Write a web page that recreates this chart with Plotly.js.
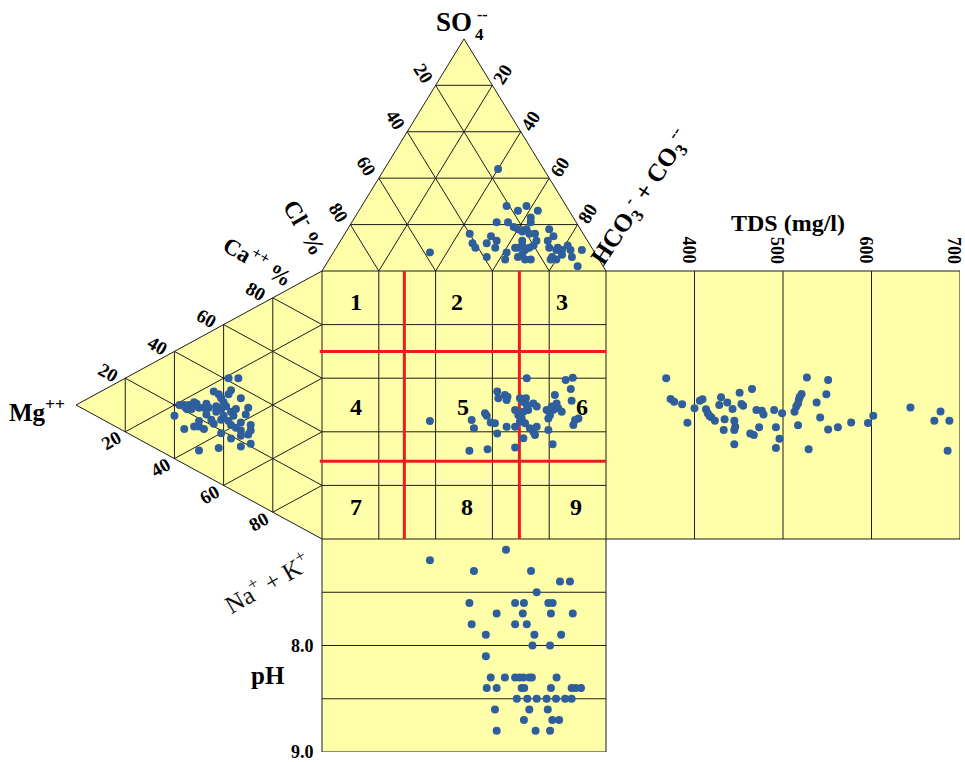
<!DOCTYPE html>
<html>
<head>
<meta charset="utf-8">
<script src="https://cdn.plot.ly/plotly-3.0.1.min.js"></script>
<style>
  html, body { margin: 0; padding: 0; background: #ffffff; }
  #chart { width: 965px; height: 762px; }
</style>
</head>
<body>
<div id="chart"></div>
<script>
// ---- Anion triangle (meq %): SO4 and HCO3+CO3, Cl is the remainder ----
const anionSO4  = [44, 8, 28, 26, 28, 26, 23, 21, 21, 21, 19, 18, 18, 17, 16, 16, 16, 12, 10, 12,
                   15, 13, 10, 6, 5, 8, 10, 10, 13, 11, 9, 10, 11, 7, 5, 6, 5, 13, 13, 18,
                   15, 10, 9, 10, 9, 11, 9, 6, 9, 6, 5, 5, 2, 7];
const anionHCO3 = [40, 34, 51, 56, 58, 63, 62, 63, 51, 55, 58, 63, 60, 62, 65, 67, 44, 47, 49, 52,
                   52, 55, 56, 55, 62, 61, 63, 64, 64, 65, 67, 68, 69, 67, 69, 66, 71, 69, 73, 71,
                   74, 75, 78, 78, 80, 81, 83, 85, 87, 78, 80, 78, 89, 81];

// ---- Cation triangle (meq %): Mg and Ca, Na+K is the remainder ----
const cationMg = [34, 38, 37, 38, 33, 44, 42, 41, 40, 39, 41, 43, 43, 46, 47, 48, 50, 51, 52, 54,
                  55, 56, 58, 60, 56, 52, 50, 48, 50, 45, 44, 41, 41, 40, 37, 36, 38, 37, 35, 33,
                  33, 30, 31, 29, 29, 30, 33, 37, 33, 29, 50, 42, 55, 53, 47, 35];
const cationCa = [43, 41, 37, 35, 36, 33, 33, 32, 31, 30, 28, 28, 26, 26, 27, 25, 24, 25, 25, 23,
                  22, 22, 21, 16, 13, 16, 17, 17, 19, 22, 21, 24, 19, 26, 29, 28, 25, 24, 24, 27,
                  24, 34, 31, 28, 26, 24, 22, 19, 18, 21, 8, 13, 21, 22, 23, 31];

// ---- Central square (anion axis %, cation axis %) ----
const squareAnion  = [38.0, 51.9, 58.3, 68.0, 52.7, 53.5, 57.4, 58.0, 59.4, 60.9, 61.7, 65.0, 68.0, 61.7,
                      62.1, 64.4, 65.0, 65.3, 68.0, 69.7, 70.7, 71.8, 72.1, 72.6, 74.4, 75.6, 70.9, 70.3,
                      71.5, 69.7, 73.2, 74.4, 75.0, 75.6, 70.9, 72.1, 79.1, 79.7, 79.7, 80.9, 81.4, 82.6,
                      82.0, 83.2, 84.4, 81.2, 85.8, 88.3, 87.6, 87.9, 88.5, 89.1, 90.3, 80.3, 69.1];
const squareCation = [44.0, 32.9, 33.5, 34.1, 44.4, 41.3, 46.9, 46.0, 43.5, 43.2, 39.4, 41.9, 41.9, 55.0,
                      52.5, 53.7, 51.9, 53.1, 48.1, 52.5, 51.2, 52.5, 50.0, 48.1, 50.6, 49.4, 47.5, 45.0,
                      43.2, 43.8, 41.3, 40.0, 38.8, 41.9, 37.6, 60.0, 48.1, 45.0, 40.7, 49.4, 48.1, 50.6,
                      53.7, 48.8, 47.5, 35.4, 59.3, 60.2, 56.0, 51.6, 42.5, 44.4, 45.0, 46.3, 46.3];

// ---- TDS panel (mg/l against the cation axis) ----
const tdsValues = [368, 373, 377, 386, 392, 400, 406, 409, 413, 415, 417, 419, 423, 428, 430, 434, 433,
                   437, 443, 445, 445, 446, 445, 451, 453, 455, 465, 463, 467, 470, 473, 476, 478, 490,
                   492, 492, 496, 499, 513, 515, 517, 518, 519, 521, 517, 527, 529, 538, 542, 549, 551,
                   551, 562, 577, 596, 602, 644, 671, 678, 688, 686];
const tdsCation = [60.0, 52.2, 51.2, 50.3, 43.4, 48.8, 51.6, 52.1, 48.4, 46.9, 45.9, 45.4, 44.1, 50.0,
                   52.9, 44.7, 40.7, 50.9, 48.5, 44.1, 40.7, 41.9, 35.4, 54.6, 50.4, 49.7, 56.0, 39.4,
                   38.8, 48.1, 41.7, 47.9, 46.5, 48.1, 41.7, 34.0, 37.4, 46.9, 47.5, 49.4, 50.6, 52.1,
                   53.1, 54.1, 42.4, 60.3, 33.5, 50.9, 45.3, 54.0, 59.3, 40.9, 41.7, 43.5, 43.3, 46.0,
                   49.1, 44.1, 47.6, 44.1, 32.9];

// ---- pH panel (anion axis % against pH) ----
const phAnion = [64.8, 38.0, 53.5, 73.6, 83.8, 87.3, 75.6, 51.9, 68.0, 71.1, 79.7, 81.2, 61.5, 70.7,
                 80.6, 88.3, 52.7, 68.0, 72.1, 57.7, 74.8, 84.2, 74.1, 80.3, 57.7, 59.4, 64.4, 68.0,
                 69.5, 70.9, 73.0, 73.9, 82.6, 58.0, 61.5, 70.3, 71.2, 80.6, 87.9, 89.3, 91.2, 68.6,
                 72.3, 75.6, 79.1, 82.4, 85.6, 87.9, 60.9, 73.0, 79.5, 71.1, 81.1, 83.5, 61.5, 75.2, 80.3];
const phValues = [7.1, 7.2, 7.3, 7.3, 7.4, 7.4, 7.5, 7.6, 7.6, 7.6, 7.6, 7.6, 7.7, 7.7, 7.7, 7.7,
                  7.8, 7.8, 7.8, 7.9, 7.9, 7.9, 8.0, 8.0, 8.1, 8.3, 8.3, 8.3, 8.3, 8.3, 8.3, 8.3,
                  8.3, 8.4, 8.4, 8.4, 8.4, 8.4, 8.4, 8.4, 8.4, 8.5, 8.5, 8.5, 8.5, 8.5, 8.5, 8.5,
                  8.6, 8.6, 8.6, 8.7, 8.7, 8.7, 8.8, 8.8, 8.8];

// ---- Axis ticks and labels ----
const triTicks   = [20, 40, 60, 80];
const squareGrid = [20, 40, 60, 80];
const tdsTicks   = [400, 500, 600, 700];
const tdsRange   = [300, 700];
const phGrid     = [7.5, 8.0, 8.5];
const phTicks    = [8.0, 9.0];
const phRange    = [7, 9];
const cellLabels = ['1', '2', '3', '4', '5', '6', '7', '8', '9'];

// ---- Geometry ----
const H = Math.sqrt(3) / 2;
const topXY  = (so4, hco3) => [hco3 + so4 / 2, 100 + so4 * H];   // Cl left, HCO3 right, SO4 apex
const leftXY = (mg, ca) => [-mg * H, ca + mg / 2];                 // Na+K bottom, Ca top, Mg apex

const FILL = '#FFFFAA';
const INK = '#1c1c1c';
const RED = '#EC1C24';
const DOT = '#2F5E9C';
const SERIF = 'Liberation Serif, Times New Roman, serif';

function seg(store, p, q) {
  store.x.push(p[0], q[0], null);
  store.y.push(p[1], q[1], null);
}

// grid lines in the main x/y frame
const grid = { x: [], y: [] };
triTicks.forEach(s => {
  seg(grid, topXY(s, 0), topXY(s, 100 - s));
  seg(grid, topXY(0, s), topXY(100 - s, s));
  seg(grid, topXY(0, 100 - s), topXY(100 - s, 0));
  seg(grid, leftXY(s, 0), leftXY(s, 100 - s));
  seg(grid, leftXY(0, s), leftXY(100 - s, s));
  seg(grid, leftXY(0, 100 - s), leftXY(100 - s, 0));
});
squareGrid.forEach(s => {
  seg(grid, [s, 0], [s, 100]);
  seg(grid, [0, s], [100, s]);
});
// outlines
[[topXY(0, 0), topXY(0, 100)], [topXY(0, 100), topXY(100, 0)], [topXY(100, 0), topXY(0, 0)],
 [leftXY(0, 0), leftXY(100, 0)], [leftXY(100, 0), leftXY(0, 100)],
 [[0, 0], [100, 0]], [[100, 0], [100, 100]], [[0, 0], [0, 100]]].forEach(p => seg(grid, p[0], p[1]));

// TDS panel verticals
const tdsGrid = { x: [], y: [] };
tdsTicks.filter(t => t < tdsRange[1]).forEach(t => seg(tdsGrid, [t, 0], [t, 100]));
// pH panel horizontals
const phLines = { x: [], y: [] };
phGrid.forEach(v => seg(phLines, [0, v], [100, v]));

// classification boundaries of the square
const red = { x: [], y: [] };
[29, 69.5].forEach(v => seg(red, [v, 100], [v, -0.8]));
[29, 70].forEach(v => seg(red, [-0.8, v], [100.8, v]));

function pathOf(pts) {
  return 'M ' + pts.map(p => p[0].toFixed(3) + ',' + p[1].toFixed(3)).join(' L ') + ' Z';
}

const shapes = [
  { type: 'path', xref: 'x', yref: 'y', layer: 'below', fillcolor: FILL, line: { width: 0 },
    path: pathOf([topXY(0, 0), topXY(100, 0), topXY(0, 100)]) },
  { type: 'path', xref: 'x', yref: 'y', layer: 'below', fillcolor: FILL, line: { width: 0 },
    path: pathOf([leftXY(0, 0), leftXY(100, 0), leftXY(0, 100)]) },
  { type: 'rect', xref: 'x', yref: 'y', layer: 'below', fillcolor: FILL, line: { width: 0 },
    x0: 0, x1: 100, y0: 0, y1: 100 },
  { type: 'rect', xref: 'x2', yref: 'y', layer: 'below', fillcolor: FILL, line: { color: INK, width: 1 },
    x0: tdsRange[0], x1: tdsRange[1], y0: 0, y1: 100 },
  { type: 'rect', xref: 'x', yref: 'y2', layer: 'below', fillcolor: FILL, line: { color: INK, width: 1 },
    x0: 0, x1: 100, y0: phRange[0], y1: phRange[1] }
];

const anionPts  = anionSO4.map((s, i) => topXY(s, anionHCO3[i]));
const cationPts = cationMg.map((m, i) => leftXY(m, cationCa[i]));

const marker = { size: 8, color: DOT };
const lineTrace = (g, xa, ya, color, width) => ({
  type: 'scatter', mode: 'lines', x: g.x, y: g.y, xaxis: xa, yaxis: ya,
  line: { color: color, width: width }, hoverinfo: 'skip', showlegend: false, cliponaxis: false
});
const dotTrace = (xs, ys, xa, ya) => ({
  type: 'scatter', mode: 'markers', x: xs, y: ys, xaxis: xa, yaxis: ya,
  marker: marker, hoverinfo: 'skip', showlegend: false, cliponaxis: false
});

const traces = [
  lineTrace(grid, 'x', 'y', INK, 1),
  lineTrace(tdsGrid, 'x2', 'y', INK, 1),
  lineTrace(phLines, 'x', 'y2', INK, 1),
  lineTrace(red, 'x', 'y', RED, 3),
  dotTrace(anionPts.map(p => p[0]), anionPts.map(p => p[1]), 'x', 'y'),
  dotTrace(cationPts.map(p => p[0]), cationPts.map(p => p[1]), 'x', 'y'),
  dotTrace(squareAnion, squareCation, 'x', 'y'),
  dotTrace(tdsValues, tdsCation, 'x2', 'y'),
  dotTrace(phAnion, phValues, 'x', 'y2')
];

// ---- Text ----
const ann = [];
function label(text, x, y, size, extra) {
  ann.push(Object.assign({
    text: text, x: x, y: y, xref: 'x', yref: 'y', showarrow: false,
    font: { family: SERIF, size: size, color: '#000', weight: 'bold' }
  }, extra || {}));
}

// anion triangle title (stacked sub/superscript)
label('SO', 46.6, 193.0, 27);
label('4', 55.4, 188.3, 17);
label('--', 56.6, 195.8, 16);

// anion edge ticks
triTicks.forEach(v => {
  const l = topXY(100 - v, 0);
  label(String(v), l[0], l[1], 19, { xshift: -12, yshift: 12, textangle: 58 });
  const r = topXY(100 - v, v);
  label(String(v), r[0], r[1], 19, { xshift: 10, yshift: 11, textangle: -58 });
});
label('Cl<sup>-</sup> %', -5.6, 116.4, 24, { textangle: 60 });
label('HCO<sub>3</sub><sup>-</sup> + CO<sub>3</sub><sup>--</sup>', 112, 127.6, 25, { textangle: -56 });

// cation edge ticks
triTicks.forEach(v => {
  const t = leftXY(100 - v, v);
  label(String(v), t[0], t[1], 19, { xshift: -17, yshift: 6, textangle: 30 });
  const b = leftXY(100 - v, 0);
  label(String(v), b[0], b[1], 19, { xshift: -14, yshift: -9, textangle: -30 });
});
label('Ca<sup>++</sup> %', -22.5, 104.1, 23, { textangle: 30 });
label('Mg<sup>++</sup>', -100.5, 48.1, 25);
label('Na<sup>+</sup> + K<sup>+</sup>', -19.4, -16.2, 25,
      { textangle: -30, font: { family: SERIF, size: 25, color: '#111', weight: 'normal' } });

// square cell numbers
const cellX = [12, 47.4, 84.4, 11.9, 49.5, 91.4, 11.9, 50.9, 89.3];
const cellY = [88.5, 88.5, 88.5, 49.3, 49.3, 49.3, 12.0, 12.0, 12.0];
cellLabels.forEach((t, i) => label(t, cellX[i], cellY[i], 24));

// TDS panel
label('TDS (mg/l)', 164.1, 117.9, 24);
tdsTicks.forEach(t => label(String(t), t, 107.8, 18, { xref: 'x2', xshift: -6, textangle: 90 }));

// pH panel
label('pH', -19, -51.1, 25);
phTicks.forEach(v => label(v.toFixed(1), 0, v, 18, { yref: 'y2', xanchor: 'right', xshift: -6 }));

const layout = {
  width: 965, height: 762,
  margin: { l: 0, r: 0, t: 0, b: 0, pad: 0 },
  paper_bgcolor: '#ffffff', plot_bgcolor: 'rgba(0,0,0,0)',
  showlegend: false,
  xaxis:  { domain: [0, 1], range: [-322 / 2.84, (965 - 322) / 2.84], visible: false, fixedrange: true },
  yaxis:  { domain: [0, 1], range: [-(762 - 539) / 2.68, 100 + 271 / 2.68], visible: false, fixedrange: true },
  xaxis2: { domain: [606 / 965, 960 / 965], range: tdsRange, anchor: 'y', visible: false, fixedrange: true },
  yaxis2: { domain: [10 / 762, 223 / 762], range: [phRange[1], phRange[0]], anchor: 'x', visible: false, fixedrange: true },
  shapes: shapes,
  annotations: ann
};

Plotly.newPlot('chart', traces, layout, { staticPlot: true, displayModeBar: false });
</script>
</body>
</html>
